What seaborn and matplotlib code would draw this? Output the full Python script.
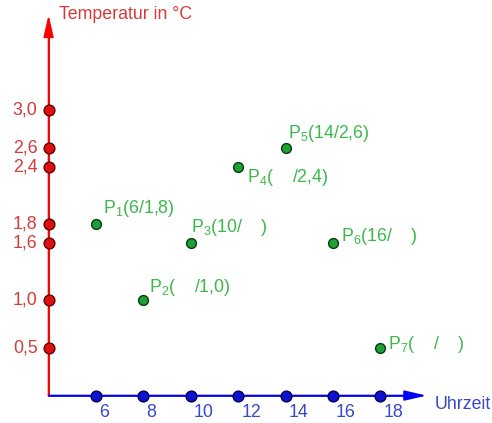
import matplotlib
matplotlib.use("Agg")
import matplotlib.pyplot as plt
import matplotlib.transforms as mtransforms
import pandas as pd
import seaborn as sns

# --- Data ---
hours = [6, 8, 10, 12, 14, 16, 18]
temps = [1.8, 1.0, 1.6, 2.4, 2.6, 1.6, 0.5]
point_labels = ["P$_1$(6/1,8)", "P$_2$(    /1,0)", "P$_3$(10/    )", "P$_4$(    /2,4)",
                "P$_5$(14/2,6)", "P$_6$(16/    )", "P$_7$(    /    )"]
y_ticks = [0.5, 1.0, 1.6, 1.8, 2.4, 2.6, 3.0]
y_tick_labels = ["0,5", "1,0", "1,6", "1,8", "2,4", "2,6", "3,0"]
x_ticks = [6, 8, 10, 12, 14, 16, 18]
x_tick_labels = ["6", "8", "10", "12", "14", "16", "18"]

# label offsets in pixels (dx, dy) relative to each point
label_offsets = [(7, 16), (6, 13), (0, 16), (9, -10), (2, 15), (8, 7), (8, 3)]

# --- Style ---
sns.set_theme(style="white")
plt.rcParams["font.family"] = ["Liberation Sans", "DejaVu Sans"]
plt.rcParams["mathtext.fontset"] = "custom"
plt.rcParams["mathtext.rm"] = "Liberation Sans"
plt.rcParams["mathtext.default"] = "regular"

RED_LINE = "#c00000"
RED_TEXT = "#d83a3a"
RED_DOT = "#e01010"
BLUE_LINE = "#2020c0"
BLUE_TEXT = "#3848c8"
BLUE_DOT = "#1010d0"
GREEN_TEXT = "#3cb84a"
GREEN_DOT = "#1ea038"
FS = 12.8

fig = plt.figure(figsize=(4.92, 4.23), dpi=100)
ax = fig.add_axes([0, 0, 1, 1])
ax.set_xlim(1.95, 22.71)
ax.set_ylim(-0.288, 4.155)
ax.axis("off")

# axes with arrows
ax.annotate("", xy=(4, 4.0), xytext=(4, 0), annotation_clip=False,
            arrowprops=dict(arrowstyle="-|>,head_length=0.95,head_width=0.22",
                            mutation_scale=14, color=RED_LINE, lw=1.3,
                            shrinkA=0, shrinkB=0, fc="#ff0000", ec="#ff0000"))
ax.plot([4, 4], [0, 3.8], color=RED_LINE, lw=1.3, zorder=2)
ax.annotate("", xy=(19.95, 0), xytext=(4, 0), annotation_clip=False,
            arrowprops=dict(arrowstyle="-|>,head_length=0.95,head_width=0.22",
                            mutation_scale=14, color=BLUE_LINE, lw=1.3,
                            shrinkA=0, shrinkB=0, fc="#0000ff", ec="#0000ff"))
ax.plot([4, 19.2], [0, 0], color=BLUE_LINE, lw=1.3, zorder=2)

# tick dots
ydots = pd.DataFrame({"x": [4] * len(y_ticks), "y": y_ticks})
xdots = pd.DataFrame({"x": x_ticks, "y": [0] * len(x_ticks)})
sns.scatterplot(data=ydots, x="x", y="y", ax=ax, s=60, color=RED_DOT,
                edgecolor="#5a0000", linewidth=1.0, zorder=3)
sns.scatterplot(data=xdots, x="x", y="y", ax=ax, s=60, color=BLUE_DOT,
                edgecolor="#000050", linewidth=1.0, zorder=3)

# points
pts = pd.DataFrame({"Uhrzeit": hours, "Temperatur": temps})
sns.scatterplot(data=pts, x="Uhrzeit", y="Temperatur", ax=ax, s=50, color=GREEN_DOT,
                edgecolor="#0a3a10", linewidth=1.0, zorder=3)
ax.set_xlim(1.95, 22.71)
ax.set_ylim(-0.288, 4.155)
ax.axis("off")

# tick labels
for v, lab in zip(y_ticks, y_tick_labels):
    ax.annotate(lab, xy=(4, v), xytext=(-11, 0), textcoords="offset pixels",
                ha="right", va="center", color=RED_TEXT, fontsize=FS)
for v, lab in zip(x_ticks, x_tick_labels):
    ax.annotate(lab, xy=(v, 0), xytext=(3, -17), textcoords="offset pixels",
                ha="left", va="center", color=BLUE_TEXT, fontsize=FS)

# point labels
for x, y, lab, (dx, dy) in zip(hours, temps, point_labels, label_offsets):
    ax.annotate(lab, xy=(x, y), xytext=(dx, dy), textcoords="offset pixels",
                ha="left", va="center", color=GREEN_TEXT, fontsize=FS)

# axis titles
ax.annotate("Temperatur in °C", xy=(4, 4.0), xytext=(10, 0), textcoords="offset pixels",
            ha="left", va="center", color=RED_TEXT, fontsize=FS)
ax.annotate("Uhrzeit", xy=(19.95, 0), xytext=(8, -9), textcoords="offset pixels",
            ha="left", va="center", color=BLUE_TEXT, fontsize=FS)

fig.savefig("out.png", dpi=100, facecolor="white")
